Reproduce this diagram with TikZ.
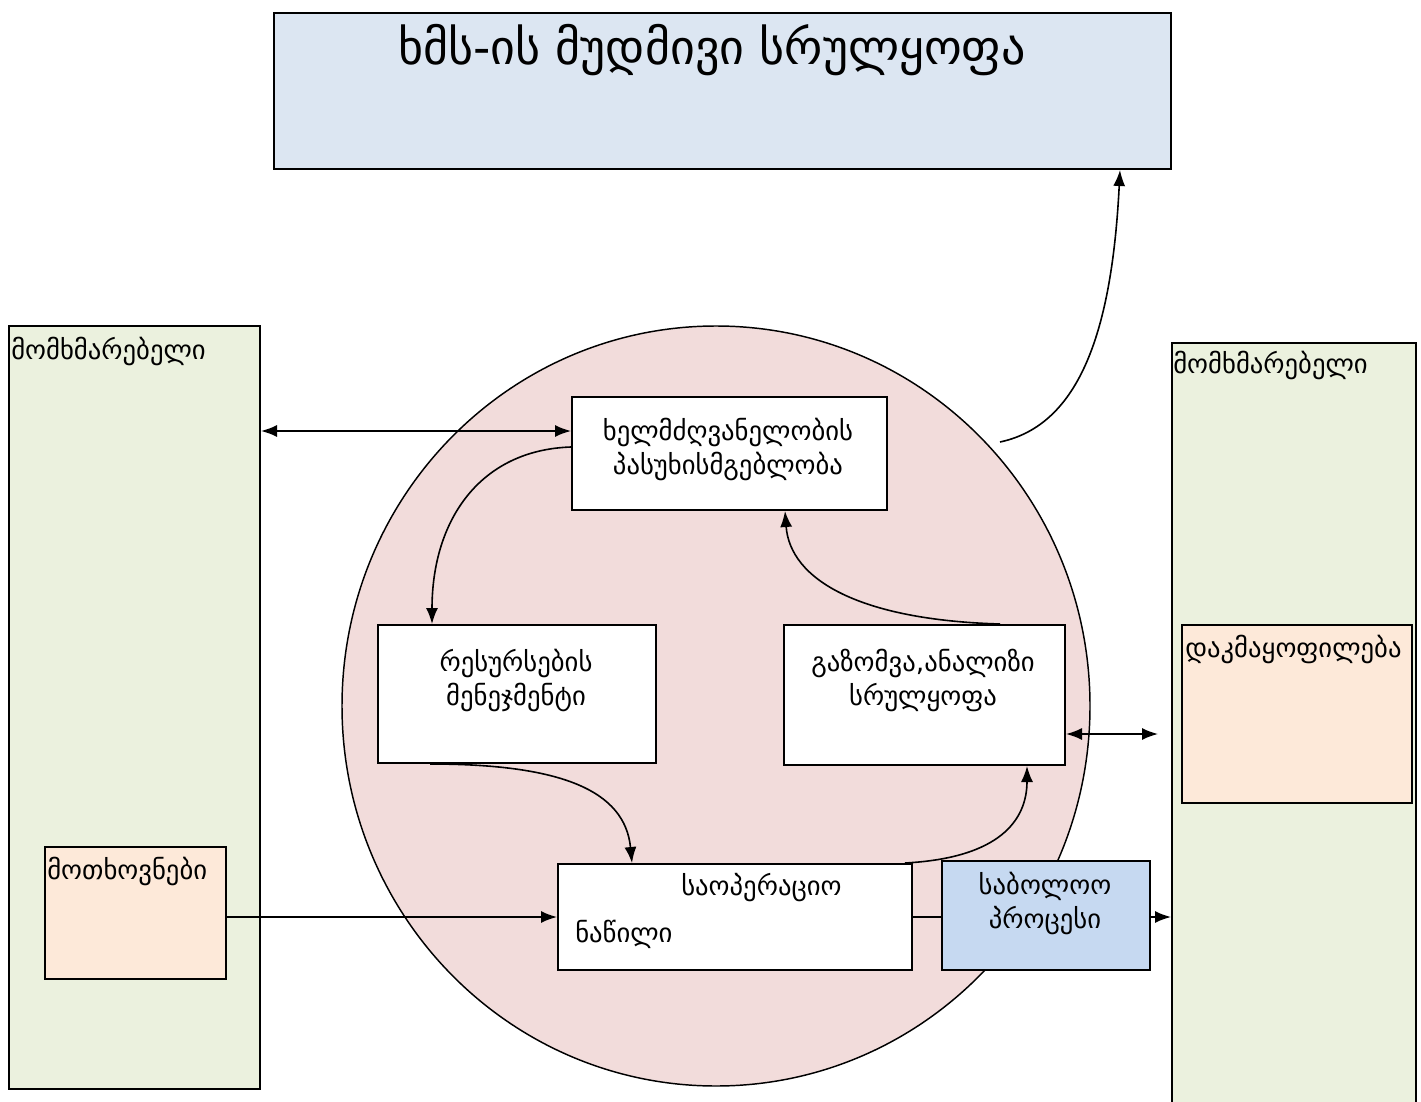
\documentclass[tikz,border=0pt]{standalone}
\usepackage{fontspec}
\setmainfont{DejaVu Sans}
\usetikzlibrary{arrows.meta}
\definecolor{topblue}{HTML}{DCE6F2}
\definecolor{usergreen}{HTML}{EBF1DE}
\definecolor{circpink}{HTML}{F2DCDB}
\definecolor{peach}{HTML}{FDE9D9}
\definecolor{procblue}{HTML}{C6D9F1}
\tikzset{
  x=0.75pt, y=-0.75pt,
  boxbase/.style={draw=black, line width=1.5pt, inner sep=0pt, anchor=north west},
  txt/.style={font=\fontsize{20}{25.5}\selectfont, align=center, inner sep=0pt},
  conn/.style={line width=1.2pt, -{Latex[length=12pt,width=9pt]}},
  dconn/.style={line width=1.2pt, {Latex[length=12pt,width=9pt]}-{Latex[length=12pt,width=9pt]}},
  plain/.style={line width=1.2pt}
}
\begin{document}
\begin{tikzpicture}
\useasboundingbox (0,0) rectangle (1421,1102);
% top box
\node[boxbase, fill=topblue, minimum width=673pt, minimum height=117pt] (top) at (273,12) {};
\node[font=\fontsize{36}{42}\selectfont, inner sep=0pt] (toptxt) at (712,50) {ხმს-ის მუდმივი სრულყოფა};
% user boxes
\node[boxbase, fill=usergreen, minimum width=188.25pt, minimum height=572.25pt] (leftuser) at (8,325) {};
\node[txt, anchor=north west] (leftlbl) at (11,337) {მომხმარებელი};
\node[boxbase, fill=usergreen, minimum width=183pt, minimum height=580pt] (rightuser) at (1171,342) {};
\node[txt, anchor=north west] (rightlbl) at (1173,351) {მომხმარებელი};
% circle
\fill[circpink, draw=black, line width=1.1pt] (716,706) ellipse [x radius=374, y radius=380];
% inner boxes
\node[boxbase, fill=white, minimum width=236.25pt, minimum height=84.75pt] (lead) at (571,396) {};
\node[txt] (leadtxt) at (728,449) {ხელმძღვანელობის\\პასუხისმგებლობა};
\node[boxbase, fill=white, minimum width=208.5pt, minimum height=103.5pt] (res) at (377,624) {};
\node[txt] (restxt) at (516,680) {რესურსების\\მენეჯმენტი};
\node[boxbase, fill=white, minimum width=210.75pt, minimum height=105pt] (meas) at (783,624) {};
\node[txt] (meastxt) at (923,680) {გაზომვა,ანალიზი\\სრულყოფა};
\node[boxbase, fill=white, minimum width=265.5pt, minimum height=79.5pt] (op) at (557,863) {};
\node[txt, anchor=west] (optxt1) at (681,888) {საოპერაციო};
\node[txt, anchor=west] (optxt2) at (575,934) {ნაწილი};
% requirements and satisfaction
\node[boxbase, fill=peach, minimum width=135.75pt, minimum height=99pt] (req) at (44,846) {};
\node[txt, anchor=north west] (reqtxt) at (47,857) {მოთხოვნები};
\node[boxbase, fill=peach, minimum width=172.5pt, minimum height=133.5pt] (sat) at (1181,624) {};
\node[txt, anchor=north west] (sattxt) at (1185,635) {დაკმაყოფილება};
% connectors
\draw[plain] (op.east |- 0,917) -- (958,917);
\node[boxbase, fill=procblue, minimum width=156pt, minimum height=81.75pt] (fin) at (941,860) {};
\node[txt] (fintxt) at (1045,903) {საბოლოო\\პროცესი};
\draw[dconn] (leftuser.east |- 0,431) -- (lead.west |- 0,431);
\draw[conn] (lead.west |- 0,447) .. controls (480,450) and (432,520) .. (res.north -| 432,0);
\draw[conn] (res.south -| 430,0) .. controls (560,764) and (625,790) .. (op.north -| 632,0);
\draw[conn] (op.north -| 905,0) .. controls (1000,858) and (1027,820) .. (meas.south -| 1027,0);
\draw[conn] (meas.north -| 1000,0) .. controls (860,620) and (790,580) .. (lead.south -| 785,0);
\draw[dconn] (meas.east |- 0,734) -- (1158,734);
\draw[conn] (fin.east |- 0,917) -- (rightuser.west |- 0,917);
\draw[conn] (req.east |- 0,917) -- (op.west |- 0,917);
\draw[conn] (1000,442) .. controls (1080,425) and (1112,330) .. (top.south -| 1120,0);
\end{tikzpicture}
\end{document}
